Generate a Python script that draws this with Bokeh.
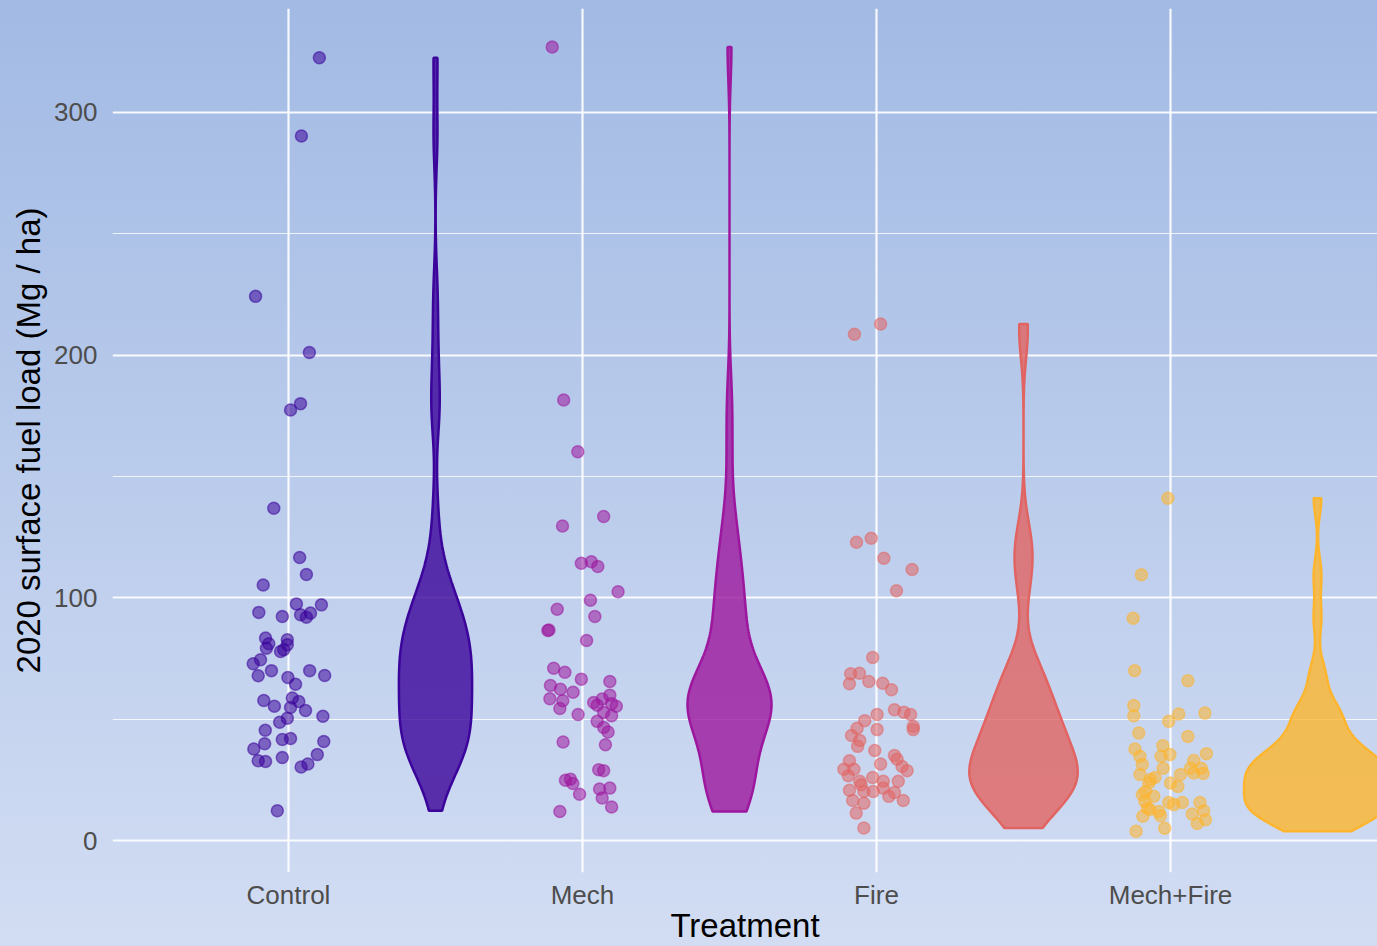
import numpy as np
from bokeh.plotting import figure
from bokeh.models import FixedTicker, Range1d
from bokeh.embed import file_html
from bokeh.resources import INLINE

# Treatments and their colours
treatments = ["Control", "Mech", "Fire", "Mech+Fire"]
colors = ["#3b049a", "#9c179e", "#e16462", "#fdb52e"]

# Surface fuel load per plot (Mg / ha), with the horizontal jitter of each point
control_load = [322.5, 290.3, 224.2, 201.1, 180.0, 177.4, 136.9, 116.6, 109.6, 105.3,
                97.5, 97.1, 94.0, 92.3, 93.0, 92.0, 93.7, 83.4, 81.1, 79.2,
                82.7, 80.7, 78.6, 77.9, 74.5, 72.8, 67.9, 70.0, 70.0, 68.0,
                67.2, 64.4, 57.7, 55.3, 58.7, 57.3, 54.8, 53.6, 50.4, 48.7,
                51.2, 45.4, 39.9, 41.6, 42.0, 40.8, 37.7, 32.9, 32.6, 34.2,
                35.4, 31.5, 30.3, 12.3]
control_jitter = [0.105, 0.044, -0.112, 0.071, 0.041, 0.007, -0.050, 0.038, 0.061, -0.086,
                  0.027, 0.112, -0.101, -0.021, 0.041, 0.061, 0.075, -0.078, -0.067, -0.075,
                  -0.004, -0.004, -0.016, -0.027, -0.095, -0.120, -0.103, -0.058, 0.072, 0.123,
                  -0.002, 0.024, -0.084, -0.048, 0.013, 0.035, 0.007, 0.058, -0.004, -0.030,
                  0.117, -0.079, -0.081, -0.021, 0.007, 0.120, -0.118, -0.103, -0.078, -0.021,
                  0.098, 0.066, 0.043, -0.038]

mech_load = [326.9, 181.5, 160.2, 133.5, 129.6, 114.2, 114.9, 112.9, 102.5, 99.0,
             95.3, 92.3, 86.5, 86.7, 82.4, 71.0, 69.3, 66.5, 65.5, 63.9,
             62.3, 61.1, 58.4, 57.6, 54.4, 51.9, 59.9, 56.9, 58.3, 56.4,
             55.3, 55.7, 52.8, 51.4, 49.1, 46.6, 44.7, 39.5, 40.6, 29.2,
             28.8, 24.8, 25.3, 23.5, 19.1, 21.2, 21.6, 17.5, 13.8, 12.0]
mech_jitter = [-0.103, -0.064, -0.016, 0.072, -0.068, -0.004, 0.030, 0.052, 0.121, 0.027,
               -0.086, 0.042, -0.118, -0.114, 0.014, -0.098, -0.060, -0.004, 0.093, -0.109,
               -0.075, -0.032, -0.111, -0.067, -0.077, -0.015, 0.093, 0.038, 0.067, 0.099,
               0.115, 0.050, 0.072, 0.099, 0.050, 0.072, 0.087, 0.078, -0.066, 0.055,
               0.072, -0.058, -0.041, -0.033, -0.010, 0.058, 0.093, 0.067, 0.099, -0.077]

fire_load = [212.8, 208.6, 124.5, 122.9, 116.3, 111.7, 102.9, 75.4, 68.9, 68.7,
             65.5, 64.8, 64.6, 62.1, 53.9, 52.9, 51.9, 51.9, 49.4, 46.3,
             47.0, 45.7, 45.7, 43.3, 41.2, 38.8, 37.1, 31.5, 35.0, 33.5,
             30.5, 28.8, 32.9, 29.4, 29.4, 26.7, 24.4, 23.0, 26.0, 24.4,
             24.4, 20.7, 20.2, 20.2, 21.6, 18.2, 19.8, 16.5, 15.4, 16.5,
             11.3, 5.2]
fire_jitter = [0.014, -0.075, -0.018, -0.068, 0.025, 0.121, 0.068, -0.013, -0.058, -0.088,
               -0.026, 0.021, -0.092, 0.051, 0.061, 0.093, 0.116, 0.002, -0.040, -0.066,
               0.125, 0.125, 0.002, -0.085, -0.057, -0.064, -0.006, 0.014, 0.061, 0.070,
               0.087, 0.104, -0.092, -0.111, -0.077, -0.096, -0.057, -0.052, -0.013, 0.023,
               0.074, -0.092, -0.043, -0.011, 0.023, 0.042, 0.061, -0.081, -0.043, 0.091,
               -0.069, -0.043]

mechfire_load = [141.0, 109.5, 91.6, 70.0, 65.8, 55.6, 51.4, 52.1, 52.5, 49.1,
                 44.3, 42.9, 37.7, 39.1, 34.7, 34.7, 35.4, 35.8, 33.0, 31.3,
                 29.8, 29.8, 29.8, 27.8, 27.6, 27.2, 27.2, 26.0, 25.1, 23.7,
                 23.7, 22.3, 20.2, 18.9, 18.2, 16.1, 15.7, 14.8, 15.7, 15.7,
                 13.4, 12.8, 12.0, 12.3, 10.9, 10.0, 10.2, 8.6, 7.0, 5.1,
                 3.8]
mechfire_jitter = [-0.009, -0.099, -0.127, -0.122, 0.059, -0.125, -0.125, 0.028, 0.117, -0.006,
                   -0.108, 0.059, -0.121, -0.026, -0.104, -0.032, -0.002, 0.122, 0.079, -0.096,
                   -0.025, 0.068, 0.105, 0.079, 0.111, -0.104, 0.034, -0.053, -0.068, -0.074,
                   0.000, 0.025, -0.085, -0.096, -0.057, -0.087, -0.006, 0.011, 0.040, 0.100,
                   -0.079, -0.070, -0.040, 0.113, 0.074, -0.094, -0.034, 0.119, 0.091, -0.020,
                   -0.117]

loads = [control_load, mech_load, fire_load, mechfire_load]
jitters = [control_jitter, mech_jitter, fire_jitter, mechfire_jitter]


def violin_density(values, n=512):
    """Gaussian kernel density (Silverman's nrd0 bandwidth), trimmed to the data range."""
    v = np.asarray(values, dtype=float)
    q75, q25 = np.percentile(v, [75, 25])
    spread = min(np.std(v, ddof=1), (q75 - q25) / 1.34)
    bw = 0.9 * spread * len(v) ** (-0.2)
    grid = np.linspace(v.min(), v.max(), n)
    dens = np.exp(-0.5 * ((grid[:, None] - v[None, :]) / bw) ** 2).sum(axis=1)
    dens /= len(v) * bw * np.sqrt(2 * np.pi)
    return grid, dens


densities = [violin_density(vals) for vals in loads]
max_density = max(d.max() for _, d in densities)
violin_width = 0.5

p = figure(width=1377, height=946, output_backend="svg", toolbar_location=None,
           x_range=Range1d(0.4014, 4.704), y_range=Range1d(-13.17, 342.8),
           min_border_left=112, min_border_right=0, min_border_top=8, min_border_bottom=73)

# gradient background shows through a transparent canvas
p.background_fill_alpha = 0
p.border_fill_alpha = 0
p.outline_line_color = None
p.styles = {"background-image": "linear-gradient(to bottom, #a2bae4, #d2ddf3)"}

for i, (vals, jit, col) in enumerate(zip(loads, jitters, colors)):
    cx = i + 1
    xs = [cx + j for j in jit]
    p.scatter(xs, vals, size=12, fill_color=col, fill_alpha=0.55,
              line_color=col, line_alpha=0.55, line_width=1.5)

    grid, dens = densities[i]
    half = dens / max_density * violin_width / 2
    vx = cx + 0.5
    px = np.concatenate([vx + half, (vx - half)[::-1]])
    py = np.concatenate([grid, grid[::-1]])
    p.patch(px, py, fill_color=col, fill_alpha=0.8, line_color=col, line_width=2.5)

p.xaxis.ticker = FixedTicker(ticks=[1, 2, 3, 4])
p.xaxis.major_label_overrides = {i + 1: t for i, t in enumerate(treatments)}
p.yaxis.ticker = FixedTicker(ticks=[0, 100, 200, 300], minor_ticks=[50, 150, 250])

for ax in (p.xaxis, p.yaxis):
    ax.axis_line_color = None
    ax.major_tick_line_color = None
    ax.minor_tick_line_color = None
    ax.major_label_text_font = "Liberation Sans"
    ax.major_label_text_font_size = "26px"
    ax.major_label_text_color = "#4d4d4d"
    ax.axis_label_text_font = "Liberation Sans"
    ax.axis_label_text_font_size = "33px"
    ax.axis_label_text_font_style = "normal"
    ax.axis_label_text_color = "black"

p.xaxis.axis_label = "Treatment"
p.yaxis.axis_label = "2020 surface fuel load (Mg / ha)"
p.xaxis.major_label_standoff = 1
p.xaxis.axis_label_standoff = -6
p.yaxis.major_label_standoff = 9
p.yaxis.axis_label_standoff = 4

p.xgrid.grid_line_color = "white"
p.xgrid.grid_line_alpha = 0.9
p.xgrid.grid_line_width = 2.2
p.ygrid.grid_line_color = "white"
p.ygrid.grid_line_alpha = 0.9
p.ygrid.grid_line_width = 2.2
p.ygrid.minor_grid_line_color = "white"
p.ygrid.minor_grid_line_alpha = 0.8
p.ygrid.minor_grid_line_width = 1.2

open("out.html", "w").write(file_html(p, INLINE))
